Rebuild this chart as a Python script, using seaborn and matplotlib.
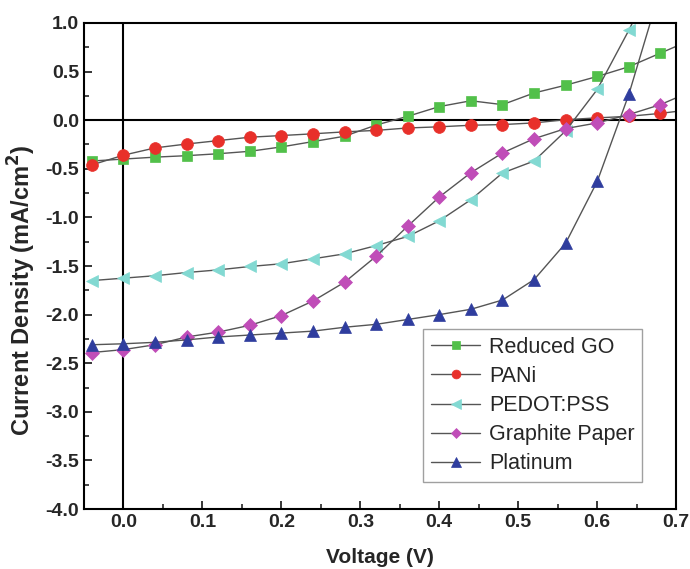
import numpy as np
import pandas as pd
import matplotlib
matplotlib.use("Agg")
import matplotlib.pyplot as plt
from matplotlib.ticker import MultipleLocator, FormatStrFormatter
import seaborn as sns

# Datos
voltage = [-0.04, 0.00, 0.04, 0.08, 0.12, 0.16, 0.20, 0.24, 0.28, 0.32,
           0.36, 0.40, 0.44, 0.48, 0.52, 0.56, 0.60, 0.64, 0.68, 0.72]

reduced_go = [-0.42, -0.40, -0.38, -0.365, -0.345, -0.32, -0.275, -0.22, -0.165, -0.05,
              0.04, 0.14, 0.20, 0.16, 0.28, 0.36, 0.45, 0.55, 0.69, 0.83]
pani = [-0.46, -0.36, -0.285, -0.245, -0.21, -0.175, -0.158, -0.14, -0.12, -0.105,
        -0.08, -0.068, -0.052, -0.045, -0.028, 0.005, 0.024, 0.04, 0.07, 0.11]
pedot = [-1.65, -1.625, -1.60, -1.567, -1.54, -1.505, -1.477, -1.426, -1.375, -1.29,
         -1.196, -1.035, -0.818, -0.543, -0.42, -0.11, 0.316, 0.925, 1.60, None]
graphite = [-2.39, -2.36, -2.31, -2.23, -2.18, -2.11, -2.01, -1.86, -1.667, -1.40,
            -1.09, -0.79, -0.54, -0.337, -0.19, -0.086, -0.028, 0.058, 0.16, 0.30]
platinum = [-2.31, -2.30, -2.285, -2.26, -2.23, -2.21, -2.19, -2.17, -2.13, -2.10,
            -2.05, -2.00, -1.945, -1.85, -1.64, -1.265, -0.63, 0.265, 1.35, None]

labels = ["Reduced GO", "PANi", "PEDOT:PSS", "Graphite Paper", "Platinum"]
series = [reduced_go, pani, pedot, graphite, platinum]
colors = ["#52C04A", "#E8302A", "#82D9D2", "#C04DB8", "#2F3D9E"]
markers = ["s", "o", "<", "D", "^"]
msizes = [7.5, 8.5, 9, 7, 9]

sns.set_style("ticks")
plt.rcParams["font.family"] = ["Liberation Sans", "DejaVu Sans"]
NARROW = ["Liberation Sans Narrow", "Liberation Sans", "DejaVu Sans"]

fig = plt.figure(figsize=(6.9, 5.69), dpi=100)
ax = fig.add_axes([0.1217, 0.1054, 0.8583, 0.8542])

for lab, vals, c, m, ms in zip(labels, series, colors, markers, msizes):
    df = pd.DataFrame({"V": voltage, "J": vals}).dropna()
    sns.lineplot(data=df, x="V", y="J", ax=ax, color="#555555", linewidth=1.0,
                 marker=m, markersize=ms, markerfacecolor=c, markeredgecolor=c,
                 markeredgewidth=0.5, label=lab, sort=False, estimator=None)

ax.axhline(0, color="black", lw=1.5, zorder=1)
ax.axvline(0, color="black", lw=1.5, zorder=1)

ax.set_xlim(-0.05, 0.7)
ax.set_ylim(-4.0, 1.0)
ax.xaxis.set_major_locator(MultipleLocator(0.1))
ax.xaxis.set_minor_locator(MultipleLocator(0.05))
ax.yaxis.set_major_locator(MultipleLocator(0.5))
ax.yaxis.set_minor_locator(MultipleLocator(0.25))
ax.xaxis.set_major_formatter(FormatStrFormatter("%.1f"))
ax.yaxis.set_major_formatter(FormatStrFormatter("%.1f"))
ax.tick_params(which="major", direction="in", length=6, width=1.3,
               top=False, right=False, labelsize=14)
ax.tick_params(which="minor", direction="in", length=3.5, width=1.2,
               top=False, right=False)
for lbl in ax.get_xticklabels() + ax.get_yticklabels():
    lbl.set_fontweight("bold")
    lbl.set_family(NARROW)

for s in ax.spines.values():
    s.set_visible(True)
    s.set_linewidth(1.5)
    s.set_color("black")

ax.set_xlabel("Voltage (V)", fontsize=15, fontweight="bold")
ax.set_ylabel("Current Density (mA/cm$^\\mathbf{2}$)", fontsize=17, fontweight="bold")
ax.xaxis.set_label_coords(0.5, -0.08)
ax.yaxis.set_label_coords(-0.077, 0.45)

leg = ax.legend(loc="lower right", bbox_to_anchor=(0.9426, 0.0556), borderaxespad=0,
                fontsize=15.5, frameon=True, fancybox=False, edgecolor="#888888",
                handlelength=2.3, handletextpad=0.4, labelspacing=0.38,
                borderpad=0.35, markerscale=0.75)
leg.get_frame().set_linewidth(1.0)

fig.savefig("out.png", dpi=100)
